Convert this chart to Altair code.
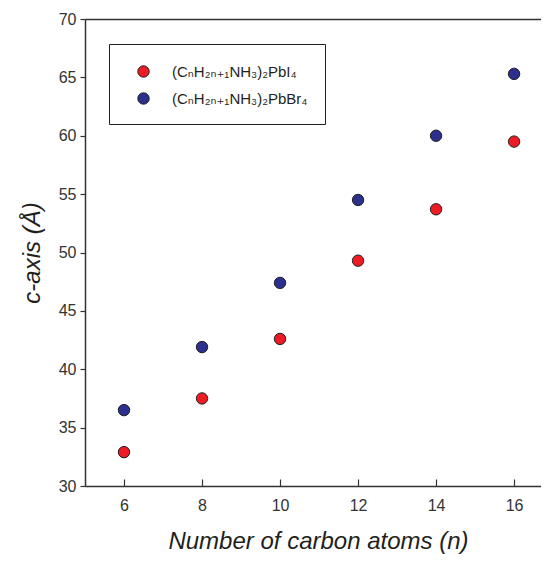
import altair as alt
import pandas as pd

n_values = [6, 8, 10, 12, 14, 16]
pbi4 = [32.9, 37.5, 42.6, 49.3, 53.7, 59.5]
pbbr4 = [36.5, 41.9, 47.4, 54.5, 60.0, 65.3]
series_names = ["(CₙH₂ₙ₊₁NH₃)₂PbI₄", "(CₙH₂ₙ₊₁NH₃)₂PbBr₄"]
series_colors = ["#ED1C24", "#2B2F8E"]
x_ticks = [6, 8, 10, 12, 14, 16]
y_ticks = [30, 35, 40, 45, 50, 55, 60, 65, 70]

rows = []
for n, a, b in zip(n_values, pbi4, pbbr4):
    rows.append({"n": n, "c": a, "series": series_names[0]})
    rows.append({"n": n, "c": b, "series": series_names[1]})
df = pd.DataFrame(rows)

FONT = "Liberation Sans, Arial, DejaVu Sans"
AX = "#333333"
xscale = alt.Scale(domain=[5, 16.69], nice=False, zero=False)
yscale = alt.Scale(domain=[30, 70], nice=False, zero=False)

points = alt.Chart(df).mark_circle(size=130, stroke="#231F20", strokeWidth=1, opacity=1).encode(
    x=alt.X("n:Q", scale=xscale, axis=alt.Axis(
        orient="bottom", values=x_ticks, ticks=False, labelPadding=11, grid=False,
        domainColor=AX, domainWidth=1.5, labelColor=AX, labelFont=FONT, labelFontSize=16,
        title="Number of carbon atoms (n)", titleFont=FONT, titleFontSize=24,
        titleFontStyle="italic", titleFontWeight="normal", titleColor="#231F20",
        titlePadding=16, titleX=233)),
    y=alt.Y("c:Q", scale=yscale, axis=alt.Axis(
        values=y_ticks, tickSize=5, tickColor=AX, tickWidth=1.2, labelPadding=4, grid=False,
        domainColor=AX, domainWidth=1.5, labelColor=AX, labelFont=FONT, labelFontSize=16,
        title="c-axis (Å)", titleFont=FONT, titleFontSize=24, titleFontStyle="italic",
        titleFontWeight="normal", titleColor="#231F20", titlePadding=14)),
    color=alt.Color("series:N", scale=alt.Scale(domain=series_names, range=series_colors),
                    legend=alt.Legend(
                        title=" ", titleFontSize=3, titlePadding=0,
                        orient="none", legendX=24, legendY=25, padding=17,
                        fillColor="white", strokeColor="#231F20", cornerRadius=0,
                        labelFont=FONT, labelFontSize=15, labelColor="#231F20",
                        symbolType="circle", symbolSize=130, symbolStrokeColor="#231F20",
                        symbolStrokeWidth=1, symbolOpacity=1, symbolOffset=10,
                        labelOffset=21, rowPadding=10)),
)

tick_layer = alt.Chart(df).mark_circle(opacity=0).encode(
    x=alt.X("n:Q", scale=xscale, axis=alt.Axis(
        orient="bottom", values=x_ticks, offset=-7, tickSize=7, tickColor=AX, tickWidth=1.2,
        labels=False, domain=False, title=None, grid=False)),
    y=alt.Y("c:Q", scale=yscale, axis=None),
)

top_layer = alt.Chart(df).mark_circle(opacity=0).encode(
    x=alt.X("n:Q", scale=xscale, axis=alt.Axis(
        orient="top", ticks=False, labels=False, domain=True, domainColor=AX,
        domainWidth=1.5, title=None, grid=False)),
    y=alt.Y("c:Q", scale=yscale, axis=None),
)

chart = alt.layer(tick_layer, top_layer, points).resolve_axis(
    x="independent", y="independent"
).properties(
    width=456, height=467,
    autosize=alt.AutoSizeParams(type="none"),
    padding={"left": 77, "top": 11, "right": 0, "bottom": 70},
).configure_view(stroke=None)

chart.save("out.html", embed_options={"renderer": "svg", "actions": False})
